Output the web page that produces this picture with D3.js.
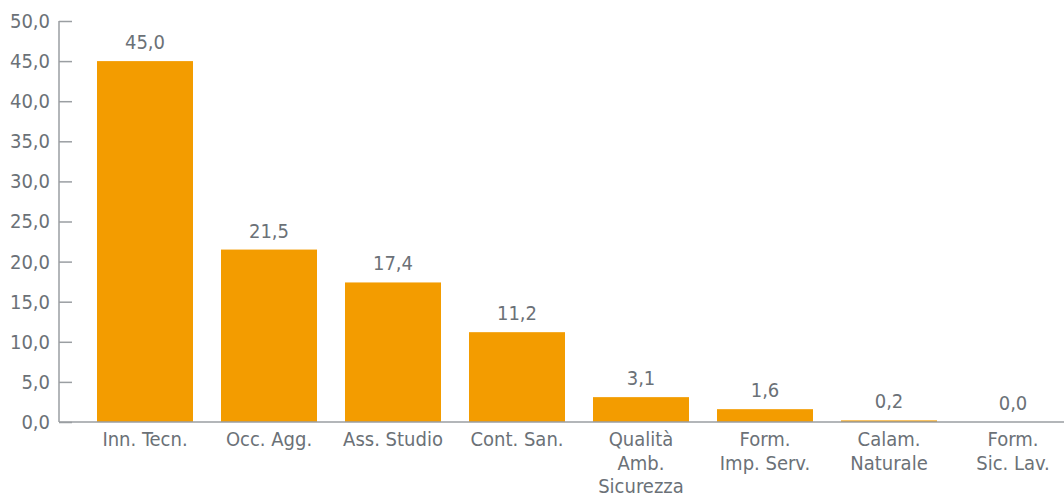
<!DOCTYPE html>
<html>
<head>
<meta charset="utf-8">
<script src="https://cdn.jsdelivr.net/npm/d3@7"></script>
<style>
  body { margin: 0; background: #fff; }
  svg text { font-family: "DejaVu Sans Condensed", "DejaVu Sans", sans-serif; fill: #6b7177; }
</style>
</head>
<body>
<svg id="chart" width="1064" height="498"></svg>
<script>
var categories = ["Inn. Tecn.", "Occ. Agg.", "Ass. Studio", "Cont. San.", "Qualità|Amb.|Sicurezza", "Form.|Imp. Serv.", "Calam.|Naturale", "Form.|Sic. Lav."];
var values = [45.0, 21.5, 17.4, 11.2, 3.1, 1.6, 0.2, 0.0];
var yTicks = [0, 5, 10, 15, 20, 25, 30, 35, 40, 45, 50];

var svg = d3.select("#chart");
var fmt = function (v) { return d3.format(".1f")(v).replace(".", ","); };

var x = d3.scaleBand()
    .domain(categories)
    .range([83, 1075])
    .paddingInner(0.2258)
    .paddingOuter(0.1129);

var y = d3.scaleLinear()
    .domain([0, 50])
    .range([422, 21]);

// bars
svg.append("g")
    .selectAll("rect")
    .data(values)
    .enter().append("rect")
    .attr("x", function (d, i) { return x(categories[i]); })
    .attr("y", function (d) { return y(d); })
    .attr("width", x.bandwidth())
    .attr("height", function (d) { return y(0) - y(d); })
    .attr("fill", "#f39c00");

// y axis
var yAxis = svg.append("g")
    .attr("transform", "translate(59,0)")
    .call(d3.axisLeft(y).tickValues(yTicks).tickSize(-13).tickPadding(9).tickFormat(fmt));
yAxis.select(".domain").attr("stroke", "#9a9ea2").attr("stroke-width", 1.5).attr("d", "M0," + y(50) + "V" + y(0));
yAxis.selectAll(".tick line").attr("stroke", "#9a9ea2").attr("stroke-width", 1.5);
yAxis.selectAll(".tick text").attr("font-size", 20).style("fill", "#6b7177");

// baseline
svg.append("line")
    .attr("x1", 59).attr("x2", 1064)
    .attr("y1", y(0)).attr("y2", y(0))
    .attr("stroke", "#9a9ea2").attr("stroke-width", 1.5);

// value labels
svg.append("g")
    .selectAll("text")
    .data(values)
    .enter().append("text")
    .attr("x", function (d, i) { return x(categories[i]) + x.bandwidth() / 2; })
    .attr("y", function (d) { return y(d) - 12; })
    .attr("text-anchor", "middle")
    .attr("font-size", 20)
    .text(fmt);

// category labels
var cat = svg.append("g")
    .selectAll("text")
    .data(categories)
    .enter().append("text")
    .attr("x", function (d) { return x(d) + x.bandwidth() / 2; })
    .attr("y", 446)
    .attr("text-anchor", "middle")
    .attr("font-size", 20);
cat.selectAll("tspan")
    .data(function (d) { return d.split("|"); })
    .enter().append("tspan")
    .attr("x", function () { return d3.select(this.parentNode).attr("x"); })
    .attr("dy", function (d, i) { return i === 0 ? 0 : 23.5; })
    .text(function (d) { return d; });
</script>
</body>
</html>
